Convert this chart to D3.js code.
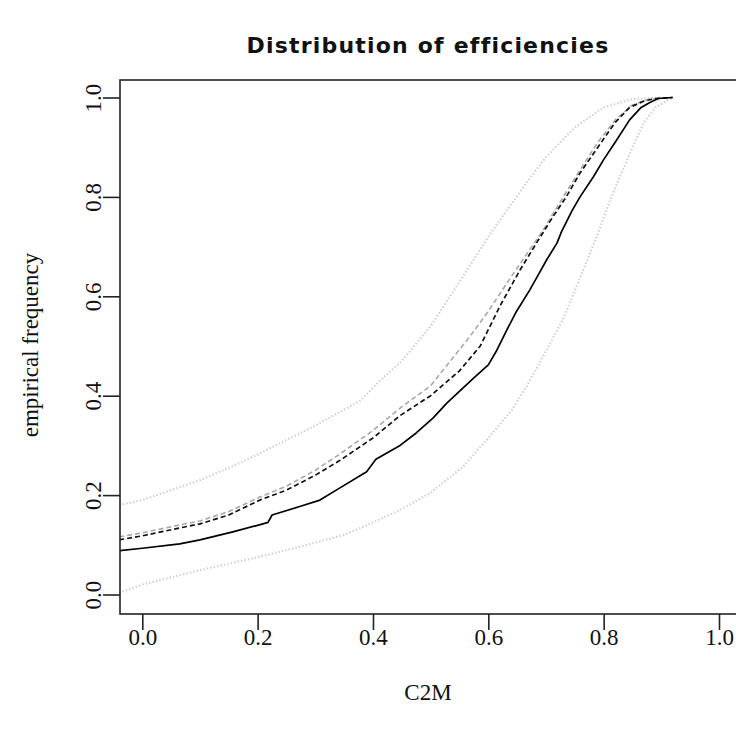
<!DOCTYPE html>
<html>
<head>
<meta charset="utf-8">
<script src="https://cdn.jsdelivr.net/npm/d3@7/dist/d3.min.js"></script>
<style>
  html, body { margin: 0; padding: 0; background: #fff; }
  svg { display: block; }
</style>
</head>
<body>
<script>
// Empirical CDF of C2M efficiencies with reference curves and envelope
const xTicks = [0.0, 0.2, 0.4, 0.6, 0.8, 1.0];
const yTicks = [0.0, 0.2, 0.4, 0.6, 0.8, 1.0];

// observed distribution (solid)
const observedX = [-0.04, 0.0, 0.065, 0.1, 0.157, 0.209, 0.218, 0.225, 0.273, 0.308, 0.342, 0.389, 0.405, 0.447, 0.475, 0.504, 0.528, 0.574, 0.6, 0.615, 0.632, 0.649, 0.672, 0.69, 0.701, 0.719, 0.727, 0.745, 0.759, 0.782, 0.80, 0.82, 0.845, 0.865, 0.88, 0.895, 0.918];
const observedY = [0.088, 0.093, 0.102, 0.11, 0.126, 0.142, 0.145, 0.16, 0.177, 0.19, 0.214, 0.247, 0.272, 0.30, 0.325, 0.355, 0.385, 0.435, 0.462, 0.492, 0.532, 0.57, 0.613, 0.65, 0.673, 0.707, 0.73, 0.772, 0.80, 0.84, 0.875, 0.91, 0.955, 0.98, 0.99, 0.998, 1.0];

// reference distribution (black dashed)
const referenceX = [-0.04, 0.0, 0.065, 0.1, 0.15, 0.204, 0.25, 0.3, 0.343, 0.4, 0.447, 0.5, 0.55, 0.586, 0.62, 0.655, 0.685, 0.712, 0.735, 0.759, 0.79, 0.82, 0.845, 0.87, 0.89, 0.92];
const referenceY = [0.11, 0.118, 0.134, 0.142, 0.16, 0.19, 0.21, 0.24, 0.27, 0.315, 0.36, 0.40, 0.45, 0.50, 0.58, 0.653, 0.71, 0.76, 0.80, 0.848, 0.90, 0.95, 0.98, 0.993, 0.998, 1.0];

// simulated mean (grey dashed)
const meanX = [-0.04, 0.0, 0.065, 0.1, 0.15, 0.204, 0.25, 0.3, 0.343, 0.4, 0.447, 0.5, 0.568, 0.6, 0.64, 0.695, 0.73, 0.759, 0.79, 0.82, 0.85, 0.88, 0.92];
const meanY = [0.116, 0.124, 0.14, 0.148, 0.167, 0.196, 0.218, 0.25, 0.283, 0.33, 0.375, 0.42, 0.519, 0.57, 0.64, 0.733, 0.80, 0.854, 0.91, 0.955, 0.985, 0.997, 1.0];

// envelope, upper bound (grey dotted)
const upperX = [-0.04, 0.0, 0.05, 0.1, 0.17, 0.24, 0.3, 0.378, 0.412, 0.45, 0.5, 0.556, 0.6, 0.667, 0.7, 0.75, 0.8, 0.85, 0.9];
const upperY = [0.18, 0.19, 0.21, 0.23, 0.265, 0.305, 0.34, 0.39, 0.43, 0.47, 0.54, 0.64, 0.72, 0.83, 0.88, 0.94, 0.98, 0.997, 1.0];

// envelope, lower bound (grey dotted)
const lowerX = [-0.04, 0.0, 0.1, 0.2, 0.273, 0.35, 0.4, 0.447, 0.499, 0.556, 0.6, 0.64, 0.667, 0.7, 0.73, 0.76, 0.788, 0.81, 0.828, 0.85, 0.87, 0.89, 0.92];
const lowerY = [0.003, 0.02, 0.049, 0.075, 0.096, 0.12, 0.145, 0.17, 0.204, 0.257, 0.315, 0.37, 0.42, 0.49, 0.555, 0.64, 0.72, 0.79, 0.84, 0.90, 0.95, 0.98, 1.0];

const W = 736, H = 731;
const box = { left: 120, top: 80, right: 738, bottom: 614 };

const svg = d3.select("body").append("svg")
  .attr("width", W).attr("height", H);

const x = d3.scaleLinear().domain([0, 1]).range([142.3, 719]);
const y = d3.scaleLinear().domain([0, 1]).range([594.5, 97.5]);

const serif = "'Liberation Serif', 'Times New Roman', serif";
const labelSize = 23;

svg.append("defs").append("clipPath").attr("id", "plotclip")
  .append("rect")
  .attr("x", box.left).attr("y", box.top)
  .attr("width", box.right - box.left).attr("height", box.bottom - box.top);

const line = d3.line().x(d => x(d[0])).y(d => y(d[1]));
const zip = (a, b) => a.map((v, i) => [v, b[i]]);

const series = [
  { xs: upperX, ys: upperY, color: "#d2d2d2", width: 2.2, dash: "1.5,2" },
  { xs: lowerX, ys: lowerY, color: "#d2d2d2", width: 2.2, dash: "1.5,2" },
  { xs: meanX, ys: meanY, color: "#a8a8a8", width: 1.6, dash: "5,3" },
  { xs: referenceX, ys: referenceY, color: "#111", width: 1.7, dash: "5,3" },
  { xs: observedX, ys: observedY, color: "#000", width: 1.7, dash: null }
];

const g = svg.append("g").attr("clip-path", "url(#plotclip)");
series.forEach(s => {
  g.append("path")
    .datum(zip(s.xs, s.ys))
    .attr("d", line)
    .attr("fill", "none")
    .attr("stroke", s.color)
    .attr("stroke-width", s.width)
    .attr("stroke-dasharray", s.dash)
    .attr("stroke-linejoin", "round");
});

// plot frame
svg.append("rect")
  .attr("x", box.left).attr("y", box.top)
  .attr("width", box.right - box.left).attr("height", box.bottom - box.top)
  .attr("fill", "none").attr("stroke", "#222").attr("stroke-width", 1.6);

// x axis
const xAxis = d3.axisBottom(x).tickValues(xTicks).tickSize(16).tickPadding(6)
  .tickFormat(d3.format(".1f"));
const gx = svg.append("g").attr("transform", `translate(0,${box.bottom})`).call(xAxis);
gx.select(".domain").remove();
gx.selectAll(".tick line").attr("stroke", "#222").attr("stroke-width", 1.6);
gx.selectAll(".tick text")
  .attr("font-family", serif).attr("font-size", labelSize).attr("fill", "#111")
  .attr("dy", null).attr("y", 23).attr("dominant-baseline", "central");

// y axis
const yAxis = d3.axisLeft(y).tickValues(yTicks).tickSize(17)
  .tickFormat(d3.format(".1f"));
const gy = svg.append("g").attr("transform", `translate(${box.left},0)`).call(yAxis);
gy.select(".domain").remove();
gy.selectAll(".tick line").attr("stroke", "#222").attr("stroke-width", 1.6);
gy.selectAll(".tick text")
  .attr("font-family", serif).attr("font-size", labelSize).attr("fill", "#111")
  .attr("x", null).attr("dy", null)
  .attr("text-anchor", "middle").attr("dominant-baseline", "central")
  .attr("transform", "translate(-27,0) rotate(-90)");

// titles
svg.append("text")
  .attr("x", 428).attr("y", 45)
  .attr("text-anchor", "middle").attr("dominant-baseline", "central")
  .attr("font-family", "'DejaVu Sans', sans-serif").attr("font-weight", "bold")
  .attr("font-size", 22).attr("letter-spacing", 1.2).attr("fill", "#111")
  .text("Distribution of efficiencies");

svg.append("text")
  .attr("x", 428).attr("y", 692)
  .attr("text-anchor", "middle").attr("dominant-baseline", "central")
  .attr("font-family", serif).attr("font-size", labelSize).attr("fill", "#111")
  .text("C2M");

svg.append("text")
  .attr("transform", "translate(30,345) rotate(-90)")
  .attr("text-anchor", "middle").attr("dominant-baseline", "central")
  .attr("font-family", serif).attr("font-size", labelSize).attr("fill", "#111")
  .text("empirical frequency");
</script>
</body>
</html>
